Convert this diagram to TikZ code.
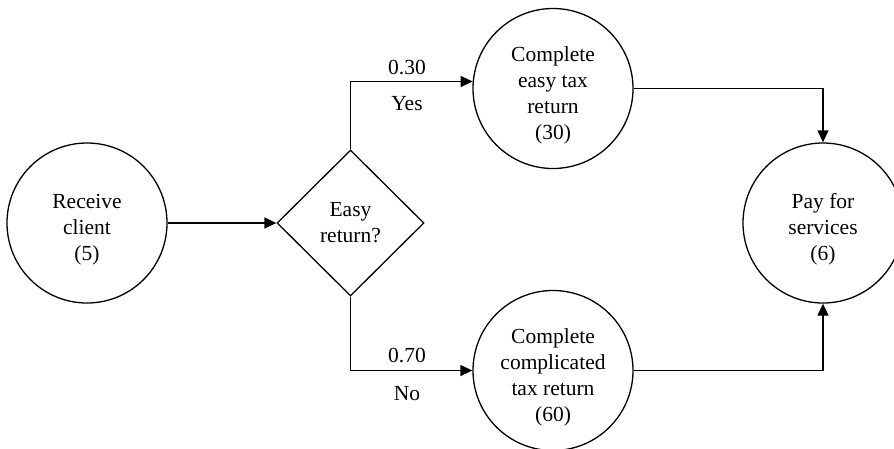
\documentclass[tikz,border=0pt]{standalone}
\usepackage{fontspec}
\setmainfont{Liberation Serif}
\usetikzlibrary{shapes.geometric,arrows.meta}
\begin{document}
\begin{tikzpicture}[x=1pt,y=-1pt,
  every node/.style={font=\fontsize{21.5}{26}\selectfont},
  task/.style={circle,draw,line width=1.3pt,minimum size=160pt,inner sep=0pt},
  tasktext/.style={align=center,inner sep=0pt},
  decision/.style={diamond,draw,line width=1.3pt,minimum width=147pt,
    minimum height=146pt,inner sep=0pt,align=center},
  flow/.style={line width=1.3pt,-{Triangle[length=12pt,width=11pt]}},
  prob/.style={anchor=base,inner sep=0pt}]
\useasboundingbox (0,0) rectangle (894,448);

% activities
\node[task] (recv) at (87,223) {};
\node[tasktext] (recvt) at (87,230) {Receive\\client\\(5)};
\node[decision] (dia) at (350.5,223) {Easy\\return?};
\node[task] (easy) at (553,88.5) {};
\node[tasktext] (easyt) at (553,95) {Complete\\easy tax\\return\\(30)};
\node[task] (comp) at (553,370.5) {};
\node[tasktext] (compt) at (553,377) {Complete\\complicated\\tax return\\(60)};
\node[task] (pay) at (823,223) {};
\node[tasktext] (payt) at (823,229) {Pay for\\services\\(6)};

% branch probabilities
\node[prob] (p1) at (407,74) {0.30};
\node[prob] (y1) at (407,110) {Yes};
\node[prob] (p2) at (407,362) {0.70};
\node[prob] (n2) at (407,400) {No};

% flow connectors
\draw[flow] (recv.east) -- (dia.west);
\draw[flow] (dia.north) |- (easy.175.5);
\draw[flow] (dia.south) |- (comp.west);
\draw[flow] (easy.east) -| (pay.north);
\draw[flow] (comp.east) -| (pay.south);
\end{tikzpicture}
\end{document}
